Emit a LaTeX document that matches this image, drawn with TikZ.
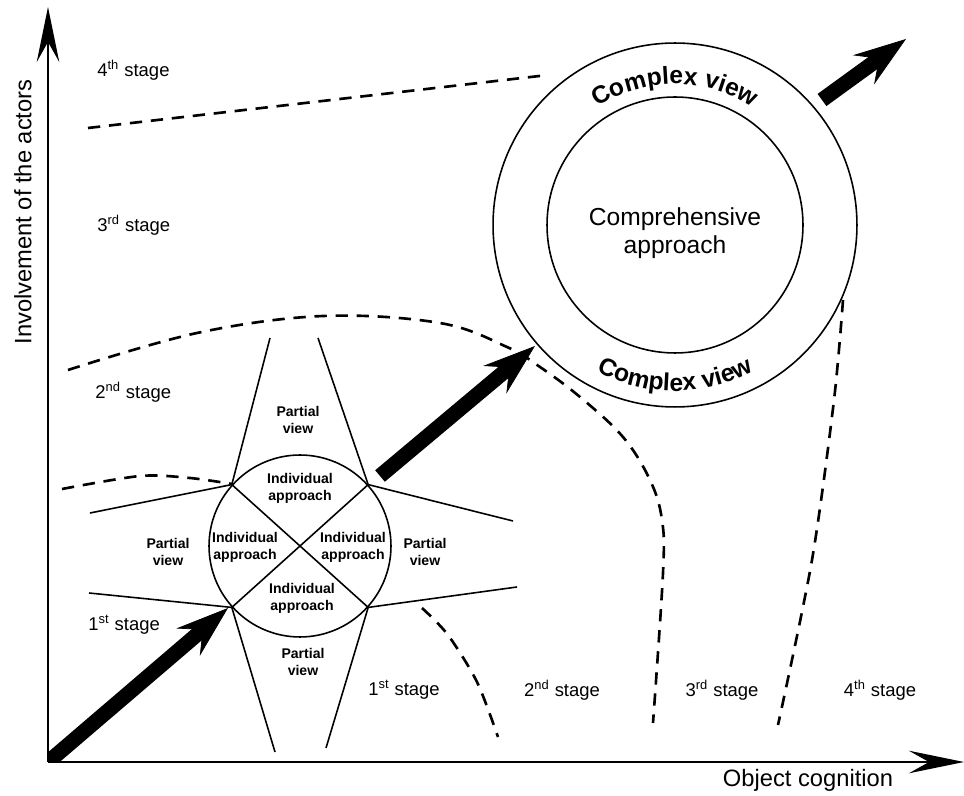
\documentclass[tikz,border=0pt]{standalone}
\usepackage{fontspec}
\setmainfont{Liberation Sans}
\usetikzlibrary{arrows.meta, decorations.text}

\begin{document}
\begin{tikzpicture}[
  x=0.02cm, y=0.02cm,
  axis/.style={line width=1.6pt, -{Stealth[length=1.1cm, width=0.45cm, inset=0.4cm]}},
  ray/.style={line width=0.9pt},
  ring/.style={draw, circle, line width=0.9pt, inner sep=0pt},
  stageline/.style={line width=1.5pt, dash pattern=on 7pt off 5pt},
  bigarrow/.style={line width=0.3cm, -{Stealth[length=1.05cm, width=0.72cm, inset=0.38cm, line width=0.4pt]}},
  stage/.style={font=\fontsize{10.5}{12}\selectfont, inner sep=0pt},
  part/.style={font=\fontsize{8}{9.6}\selectfont\bfseries, align=center, inner sep=0pt},
  axislabel/.style={font=\fontsize{13.5}{16}\selectfont, inner sep=0pt}
]
\useasboundingbox (0,0) rectangle (964,795);

\coordinate (o) at (48,33);
\coordinate (xend) at (964,33);
\coordinate (yend) at (48,788);
\draw[axis] (o) -- (xend);
\draw[axis] (o) -- (yend);
\node[axislabel] (xlab) at (808,15) {Object cognition};
\node[axislabel, rotate=90] (ylab) at (23,583) {Involvement of the actors};

% stage borders
\draw[stageline] (88,667) -- (548,720);
\draw[stageline] plot[smooth, tension=0.6] coordinates {(68,425) (197,462) (323,479) (440,472) (507,448) (540,428) (580,398) (623,358) (650,315) (662,275) (663,222) (653,72)};
\draw[stageline] plot[smooth] coordinates {(62,306) (140,319) (190,317) (232,311)};
\draw[stageline] plot[smooth] coordinates {(422,187) (448,160) (477,113) (498,58)};
\draw[stageline] plot[smooth] coordinates {(843,495) (834,395) (812,235) (778,70)};

\node[stage, anchor=west] (s4) at (97,725) {4\textsuperscript{th} stage};
\node[stage, anchor=west] (s3) at (97,570) {3\textsuperscript{rd} stage};
\node[stage, anchor=west] (s2) at (95,403) {2\textsuperscript{nd} stage};
\node[stage, anchor=west] (s1) at (88,170) {1\textsuperscript{st} stage};
\node[stage] (b1) at (404,105) {1\textsuperscript{st} stage};
\node[stage] (b2) at (562,105) {2\textsuperscript{nd} stage};
\node[stage] (b3) at (722,105) {3\textsuperscript{rd} stage};
\node[stage] (b4) at (880,105) {4\textsuperscript{th} stage};

% individual approaches
\node[ring, minimum size=3.64cm] (ind) at (300,249) {};
\coordinate (tl) at (270,457);
\coordinate (tr) at (318,457);
\coordinate (lu) at (90,282);
\coordinate (ru) at (513,274);
\coordinate (ll) at (89,202);
\coordinate (rl) at (517,208);
\coordinate (bl) at (275,43);
\coordinate (br) at (326,47);
\draw[ray] (tl) -- (ind.138) -- (lu);
\draw[ray] (tr) -- (ind.42) -- (ru);
\draw[ray] (ll) -- (ind.222) -- (bl);
\draw[ray] (rl) -- (ind.318) -- (br);
\draw[ray] (ind.138) -- (ind.318);
\draw[ray] (ind.42) -- (ind.222);

\node[part] (iat) at (300,307) {Individual\\approach};
\node[part] (ial) at (245,248) {Individual\\approach};
\node[part] (iar) at (353,248) {Individual\\approach};
\node[part] (iab) at (302,197) {Individual\\approach};
\node[part] (pvt) at (298,375) {Partial\\view};
\node[part] (pvl) at (168,243) {Partial\\view};
\node[part] (pvr) at (425,243) {Partial\\view};
\node[part] (pvb) at (303,133) {Partial\\view};

% comprehensive approach
\node[ring, minimum size=7.28cm] (cv) at (675,570) {};
\node[ring, minimum size=5.12cm] (ca) at (675,570) {};
\node[align=center, font=\fontsize{14}{16}\selectfont] (comp) at (675,562) {Comprehensive\\approach};
\path[decorate, decoration={text along path, text align=center,
  text={|\fontsize{14}{14}\selectfont\bfseries|Complex view}}]
  ([shift={(135:141)}]cv.center) arc[start angle=135, end angle=45, radius=141];
\path[decorate, decoration={text along path, text align=center,
  text={|\fontsize{14}{14}\selectfont\bfseries|Complex view}}]
  ([shift={(225:166)}]cv.center) arc[start angle=225, end angle=315, radius=166];

% development arrows
\coordinate (a1s) at (40,26);
\coordinate (a1e) at (228,187);
\coordinate (a2s) at (380,319);
\coordinate (a2e) at (535,449);
\coordinate (a3s) at (822,695);
\coordinate (a3e) at (906,756);
\begin{scope}
  \clip (o) rectangle (300,300);
  \draw[bigarrow] (a1s) -- (a1e);
\end{scope}
\draw[bigarrow] (a2s) -- (a2e);
\draw[bigarrow] (a3s) -- (a3e);

\end{tikzpicture}
\end{document}
